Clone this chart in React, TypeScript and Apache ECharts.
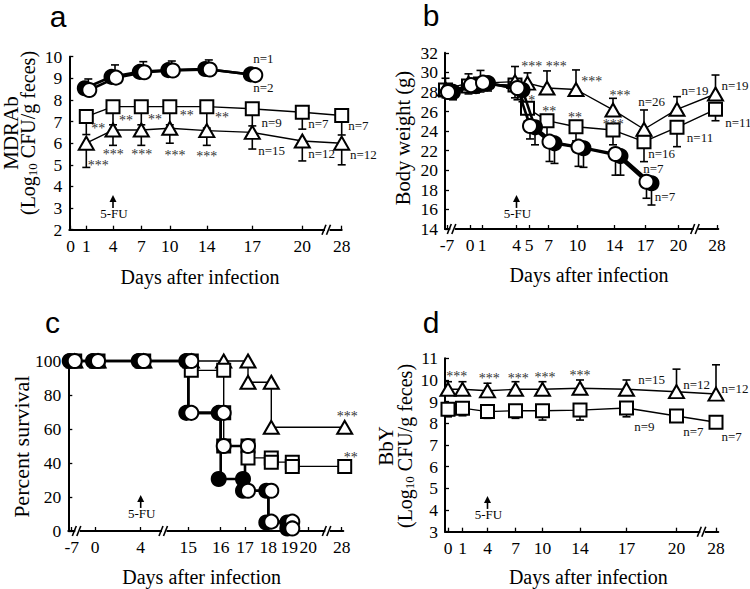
import React, { useEffect, useRef } from "react";
import * as echarts from "echarts";

const SERIF = '"Liberation Serif", "Times New Roman", serif';
const SANS = '"Liberation Sans", Arial, sans-serif';

// ---------- Panel a : MDRAb ----------
const aTickDays = [0, 1, 4, 7, 10, 14, 17, 20, 28];
const aTickPos = [1.4, 17, 43.7, 72, 100.5, 137.5, 183, 233, 272.4];
const aCircDays = [1, 4, 7, 10, 14, 17];
const aFilledMean = [8.54, 9.07, 9.3, 9.38, 9.43, 9.18];
const aOpenMean = [8.46, 9.03, 9.28, 9.36, 9.41, 9.15];
const aOpenUpper = [8.97, 9.62, 9.77, 9.8, 9.85, null];
const aDays = [1, 4, 7, 10, 14, 17, 20, 28];
const aSqMean = [7.23, 7.69, 7.69, 7.69, 7.69, 7.59, 7.43, 7.28];
const aSqLower = [6.4, 6.85, 6.85, 6.85, 6.7, 6.8, 6.65, 6.38];
const aTriMean = [6.0, 6.61, 6.61, 6.69, 6.58, 6.5, 6.1, 6.0];
const aTriLower = [4.88, 5.9, 5.9, 6.0, 5.9, 5.73, 5.18, 5.0];
const aStars: [number, number, string][] = [
  [29, 6.81, "**"], [56.7, 7.15, "**"], [85.7, 7.23, "**"], [117.4, 7.38, "**"], [152.7, 7.31, "**"],
  [29, 5.08, "***"], [44, 5.59, "***"], [72.4, 5.59, "***"], [105.7, 5.54, "***"], [137.4, 5.51, "***"],
];
const aCounts: [number, number, string][] = [
  [194, 9.92, "n=1"], [194, 8.57, "n=2"], [202.4, 6.97, "n=9"], [249, 6.89, "n=7"], [289, 6.84, "n=7"],
  [202.4, 5.65, "n=15"], [252.4, 5.54, "n=12"], [294, 5.46, "n=12"],
];

// ---------- Panel b : Body weight ----------
const bTickDays = [-7, 0, 1, 4, 5, 7, 10, 14, 17, 20, 28];
const bTickPos = [2, 25, 37, 71.5, 84, 103.5, 132.5, 169.5, 200.5, 233.5, 272];
const bDays = [-7, 0, 1, 4, 5, 7, 10, 14, 17, 20, 28];
const bTriMean = [28.3, 28.9, 28.9, 29.05, 28.9, 28.4, 28.25, 26.16, 24.19, 26.23, 27.79];
const bTriUpper = [29.4, 29.85, 30.2, 30.6, 29.95, 30.15, 30.25, 27.35, 26.16, 27.52, 29.73];
const bSqMean = [28.2, 28.6, 28.8, 28.7, 26.33, 25.07, 24.45, 24.11, 22.92, 24.39, 26.23];
const bSqLower = [27.4, 27.8, 28.0, 27.4, 25.0, 23.3, 23.0, 22.6, 20.88, 22.41, 25.06];
const bCircDays = [-7, 0, 1, 4, 5, 7, 10, 14, 17];
const bOpenMean = [28.0, 28.7, 28.95, 28.4, 24.52, 22.92, 22.41, 21.66, 18.83];
const bOpenLower = [27.3, 28.0, 28.2, 27.2, 23.2, 20.9, 20.4, 19.5, 17.14];
const bFilledMean = [28.0, 28.6, 28.9, 28.2, 24.39, 22.75, 22.25, 21.45, 18.67];
const bFilledLower = [27.2, 27.9, 28.1, 27.0, 22.6, 20.7, 20.3, 19.5, 16.45];
const bStars: [number, number, string][] = [
  [86.7, 30.86, "***"], [111.3, 30.86, "***"], [86.7, 27.35, "*"], [104.3, 26.23, "**"],
  [130, 25.65, "**"], [146.7, 29.29, "***"], [175, 27.92, "***"], [168.3, 24.96, "***"],
];
const bCounts: [number, number, string][] = [
  [206.7, 27.0, "n=26"], [250, 28.13, "n=19"], [290, 28.61, "n=19"], [293.3, 24.86, "n=11"],
  [255, 23.37, "n=11"], [216.7, 21.73, "n=16"], [208.3, 20.2, "n=7"], [220, 17.37, "n=7"],
];

// ---------- Panel c : Percent survival ----------
const cTickDays = [-7, 0, 4, 15, 16, 17, 18, 19, 20, 28];
const cTickPos = [3.4, 26.7, 72.4, 120, 152.4, 176.7, 200, 221, 240, 273.4];
const cTriDays = [-7, 0, 4, 15, 16, 17, 17, 18, 18, 28];
const cTriVals = [100, 100, 100, 100, 100, 100, 87.5, 87.5, 61, 61];
const cSqDays = [-7, 0, 4, 15, 15, 16, 16, 16, 17, 17, 18, 18, 19, 19, 28];
const cSqVals = [100, 100, 100, 100, 94.5, 94.5, 69.5, 50, 50, 43, 43, 40.5, 40.5, 38, 38];
const cFilledDays = [-7, 0, 4, 15, 15, 16, 16, 17, 17, 18, 18, 19, 19];
const cFilledVals = [100, 100, 100, 100, 69.5, 69.5, 30.6, 30.6, 23.7, 23.7, 5, 5, 1.5];
const cOpenDays = [-7, 0, 4, 15, 15, 16, 16, 17, 17, 18, 18, 19, 19];
const cOpenVals = [100, 100, 100, 100, 69.5, 69.5, 50, 50, 23.7, 23.7, 5.5, 5.5, 1.5];
const cStars: [number, number, string][] = [[279, 68.8, "***"], [282.4, 44.7, "**"]];

// ---------- Panel d : BbY ----------
const dTickDays = [0, 1, 4, 7, 10, 14, 17, 20, 28];
const dTickPos = [3, 17.5, 42.5, 70.5, 97.5, 135, 181.5, 231.5, 271];
const dDays = [0, 1, 4, 7, 10, 14, 17, 20, 28];
const dTriMean = [9.57, 9.57, 9.5, 9.57, 9.57, 9.62, 9.57, 9.46, 9.35];
const dTriUpper = [9.92, 9.92, 9.85, 9.92, 9.92, 10.0, 10.0, 10.5, 10.7];
const dSqMean = [8.65, 8.7, 8.54, 8.58, 8.58, 8.61, 8.71, 8.34, 8.05];
const dSqLower = [8.3, 8.35, 8.23, 8.23, 8.15, 8.15, 8.3, null, null];
const dStars: [number, number, string][] = [
  [11.7, 10.28, "***"], [44.3, 10.18, "***"], [73.3, 10.18, "***"], [100, 10.22, "***"], [135, 10.31, "***"],
];
const dCounts: [number, number, string][] = [
  [206.7, 10.0, "n=15"], [251.7, 9.81, "n=12"], [290, 9.62, "n=12"],
  [199.3, 7.84, "n=9"], [248.3, 7.61, "n=7"], [286.7, 7.38, "n=7"],
];

// arrow (5-FU) tip values, one per panel, in y units
const fuTip = [3.6, 17.48, 21.2, 4.65];
const fuDay = 4;

// ---------- layout ----------
const GRIDS = [
  { left: 69.3, top: 56.7, width: 272.4, height: 173, ymin: 2, ymax: 10, step: 1 },
  { left: 445, top: 52.8, width: 273.3, height: 176.2, ymin: 14, ymax: 32, step: 2 },
  { left: 68.3, top: 361, width: 275, height: 170, ymin: 0, ymax: 100, step: 20 },
  { left: 445, top: 358.3, width: 273.3, height: 173.4, ymin: 3, ymax: 11, step: 1 },
];
const BREAKS = [[258.7], [8.3, 251.7], [10, 96.7, 260], [258.3]];
const TICKS = [
  [aTickDays, aTickPos],
  [bTickDays, bTickPos],
  [cTickDays, cTickPos],
  [dTickDays, dTickPos],
];

const posOf = (ti: number, day: number) => {
  const [days, pos] = TICKS[ti];
  return pos[days.indexOf(day)];
};
const pts = (gi: number, days: number[], vals: (number | null)[], off: number) =>
  days.map((d, i) => [posOf(gi, d) + off, vals[i]]).filter((p) => p[1] != null);
const errPts = (gi: number, days: number[], vals: number[], ends: (number | null)[], off: number) =>
  days
    .map((d, i) => [posOf(gi, d) + off, vals[i], ends[i]])
    .filter((p) => p[2] != null);

const SYM: Record<string, any> = {
  filled: { symbol: "circle", size: 14, fill: "#000" },
  open: { symbol: "circle", size: 14, fill: "#fff" },
  square: { symbol: "rect", size: 13, fill: "#fff" },
  tri: { symbol: "triangle", size: [15, 13], fill: "#fff" },
};

function lineSeries(gi: number, data: any[], kind: string | null, width: number, z: number) {
  const s = kind ? SYM[kind] : null;
  return {
    type: "line",
    xAxisIndex: gi,
    yAxisIndex: gi,
    data,
    z,
    clip: false,
    silent: true,
    symbol: s ? s.symbol : "none",
    symbolSize: s ? s.size : 0,
    showSymbol: !!s,
    showAllSymbol: true,
    itemStyle: { color: s ? s.fill : "#000", borderColor: "#000", borderWidth: 2, opacity: 1 },
    lineStyle: { color: "#000", width },
    emphasis: { disabled: true },
  };
}

function markerSeries(gi: number, data: any[], kind: string, z: number) {
  const s = SYM[kind];
  return {
    type: "scatter",
    xAxisIndex: gi,
    yAxisIndex: gi,
    data,
    z,
    clip: false,
    silent: true,
    symbol: s.symbol,
    symbolSize: s.size,
    itemStyle: { color: s.fill, borderColor: "#000", borderWidth: 2, opacity: 1 },
    emphasis: { disabled: true },
  };
}

function errSeries(gi: number, data: any[], z: number) {
  return {
    type: "custom",
    xAxisIndex: gi,
    yAxisIndex: gi,
    z,
    clip: false,
    silent: true,
    data,
    encode: { x: 0, y: [1, 2] },
    renderItem: (_p: any, api: any) => {
      const x = api.value(0);
      const a = api.coord([x, api.value(1)]);
      const b = api.coord([x, api.value(2)]);
      const st = { stroke: "#000", lineWidth: 1.6 };
      return {
        type: "group",
        children: [
          { type: "line", shape: { x1: a[0], y1: a[1], x2: b[0], y2: b[1] }, style: st },
          { type: "line", shape: { x1: b[0] - 4, y1: b[1], x2: b[0] + 4, y2: b[1] }, style: st },
        ],
      };
    },
  };
}

// annotation texts placed at data coordinates via the axes' scales
function textSeries(gi: number, items: [number, number, string][], fontSize: number, color: string, dy: number) {
  return {
    type: "custom",
    xAxisIndex: gi,
    yAxisIndex: gi,
    z: 10,
    silent: true,
    clip: false,
    data: items.map((it) => [it[0], it[1]]),
    encode: { x: 0, y: 1 },
    renderItem: (params: any, api: any) => {
      const p = api.coord([api.value(0), api.value(1)]);
      return {
        type: "text",
        x: p[0],
        y: p[1] + dy,
        style: {
          text: items[params.dataIndex][2],
          fontSize,
          fontFamily: SERIF,
          fill: color,
          align: "center",
          verticalAlign: "middle",
        },
      };
    },
  };
}

const yPix = (gi: number, v: number) => {
  const g = GRIDS[gi];
  return g.top + ((g.ymax - v) / (g.ymax - g.ymin)) * g.height;
};

function buildOption() {
  const xAxis = GRIDS.map((g, gi) => {
    const [days, pos] = TICKS[gi];
    return {
      type: "value",
      gridIndex: gi,
      min: 0,
      max: g.width,
      axisLine: { show: true, onZero: false, lineStyle: { color: "#000", width: 2 } },
      axisTick: { show: true, inside: true, length: 4, customValues: pos, lineStyle: { color: "#000", width: 1.3 } },
      axisLabel: {
        show: true,
        customValues: pos,
        formatter: (v: number) => {
          const i = pos.findIndex((p) => Math.abs(p - v) < 0.01);
          return i >= 0 ? String(days[i]) : "";
        },
        fontSize: 17.5,
        fontFamily: SERIF,
        color: "#000",
        margin: 7,
      },
      splitLine: { show: false },
    };
  });
  const yAxis = GRIDS.map((g, gi) => ({
    type: "value",
    gridIndex: gi,
    min: g.ymin,
    max: g.ymax,
    interval: g.step,
    axisLine: { show: true, onZero: false, lineStyle: { color: "#000", width: 2 } },
    axisTick: { show: true, inside: true, length: 4, lineStyle: { color: "#000", width: 1.3 } },
    axisLabel: { fontSize: 17.5, fontFamily: SERIF, color: "#000", margin: 7 },
    splitLine: { show: false },
  }));

  const STAR = 14;
  const NF = 13;
  const SC = "#333";
  const NC = "#111";
  const series: any[] = [
    // a
    errSeries(0, errPts(0, aDays, aTriMean, aTriLower, 0), 1),
    errSeries(0, errPts(0, aDays, aSqMean, aSqLower, 0), 1),
    errSeries(0, errPts(0, aCircDays, aOpenMean, aOpenUpper, 2), 1),
    lineSeries(0, pts(0, aDays, aTriMean, 0), "tri", 1.4, 3),
    lineSeries(0, pts(0, aDays, aSqMean, 0), "square", 1.4, 4),
    lineSeries(0, pts(0, aCircDays, aFilledMean, -1.5), "filled", 2.6, 5),
    lineSeries(0, pts(0, aCircDays, aOpenMean, 3), "open", 2.6, 6),
    textSeries(0, aStars, STAR, SC, 2.5),
    textSeries(0, aCounts, NF, NC, 0),
    // b
    errSeries(1, errPts(1, bDays, bTriMean, bTriUpper, -1.5), 1),
    errSeries(1, errPts(1, bDays, bSqMean, bSqLower, -1.5), 1),
    errSeries(1, errPts(1, bCircDays, bOpenMean, bOpenLower, 1), 1),
    errSeries(1, errPts(1, bCircDays, bFilledMean, bFilledLower, 6), 1),
    lineSeries(1, pts(1, bDays, bSqMean, -1.5), "square", 1.4, 3),
    lineSeries(1, pts(1, bDays, bTriMean, -1.5), "tri", 1.4, 4),
    lineSeries(1, pts(1, bCircDays, bFilledMean, 6), "filled", 2.6, 5),
    lineSeries(1, pts(1, bCircDays, bOpenMean, 1), "open", 2.6, 6),
    textSeries(1, bStars, STAR, SC, 2.5),
    textSeries(1, bCounts, NF, NC, 0),
    // c : step lines, markers drawn separately with small offsets
    lineSeries(2, pts(2, cTriDays, cTriVals, 3), null, 1.4, 3),
    lineSeries(2, pts(2, cSqDays, cSqVals, 3), null, 1.4, 3),
    lineSeries(2, pts(2, cFilledDays, cFilledVals, 0), null, 2.6, 3),
    lineSeries(2, pts(2, cOpenDays, cOpenVals, 0), null, 2.6, 3),
    markerSeries(2, pts(2, cTriDays, cTriVals, 3), "tri", 4),
    markerSeries(2, pts(2, cSqDays, cSqVals, 3), "square", 5),
    markerSeries(2, pts(2, cFilledDays, cFilledVals, -2), "filled", 6),
    markerSeries(2, pts(2, cOpenDays, cOpenVals, 3), "open", 7),
    textSeries(2, cStars, STAR, SC, 2.5),
    // d
    errSeries(3, errPts(3, dDays, dTriMean, dTriUpper, 0), 1),
    errSeries(3, errPts(3, dDays, dSqMean, dSqLower, 0), 1),
    lineSeries(3, pts(3, dDays, dSqMean, 0), "square", 1.4, 3),
    lineSeries(3, pts(3, dDays, dTriMean, 0), "tri", 1.4, 4),
    textSeries(3, dStars, STAR, SC, 2.5),
    textSeries(3, dCounts, NF, NC, 0),
  ];

  const graphic: any[] = [];
  const txt = (x: number, y: number, text: string, size: number, opts: any = {}) => ({
    type: "text",
    x,
    y,
    rotation: opts.rot || 0,
    z: 20,
    silent: true,
    style: {
      text,
      fontSize: size,
      fontFamily: opts.font || SERIF,
      lineHeight: opts.lh || Math.round(size * 1.05),
      fill: "#000",
      align: "center",
      verticalAlign: "middle",
      rich: opts.rich,
    },
  });
  const subRich = {
    sub: { fontSize: 13, fontFamily: SERIF, verticalAlign: "bottom", lineHeight: 14 },
  };
  const R = Math.PI / 2;
  // panel letters
  graphic.push(txt(58, 16.5, "a", 30, { font: SANS, lh: 22 }));
  graphic.push(txt(431, 15.5, "b", 30, { font: SANS, lh: 22 }));
  graphic.push(txt(52.5, 322.5, "c", 30, { font: SANS, lh: 22 }));
  graphic.push(txt(431, 322.5, "d", 30, { font: SANS, lh: 22 }));
  // axis titles
  graphic.push(txt(10.5, 133, "MDRAb", 21, { rot: R, lh: 18 }));
  graphic.push(txt(28, 133, "(Log{sub|10} CFU/g feces)", 20, { rot: R, rich: subRich }));
  graphic.push(txt(200, 277, "Days after infection", 20));
  graphic.push(txt(402.5, 138, "Body weight (g)", 20.5, { rot: R }));
  graphic.push(txt(589, 275, "Days after infection", 20));
  graphic.push(txt(21, 446.7, "Percent survival", 22, { rot: R }));
  graphic.push(txt(201.7, 577.3, "Days after infection", 20));
  graphic.push(txt(386, 446, "BbY", 21, { rot: R, lh: 18 }));
  graphic.push(txt(405, 446, "(Log{sub|10} CFU/g feces)", 20, { rot: R, rich: subRich }));
  graphic.push(txt(588.3, 577.3, "Days after infection", 20));

  GRIDS.forEach((g, gi) => {
    const axisY = g.top + g.height;
    // axis breaks
    BREAKS[gi].forEach((bp) => {
      const bx = g.left + bp;
      graphic.push({ type: "rect", z: 20, silent: true, shape: { x: bx - 3, y: axisY - 2.5, width: 4.5, height: 5 }, style: { fill: "#fff" } });
      graphic.push({ type: "line", z: 21, silent: true, shape: { x1: bx - 6, y1: axisY + 5, x2: bx - 2, y2: axisY - 5 }, style: { stroke: "#000", lineWidth: 1.6 } });
      graphic.push({ type: "line", z: 21, silent: true, shape: { x1: bx - 1.5, y1: axisY + 5, x2: bx + 2.5, y2: axisY - 5 }, style: { stroke: "#000", lineWidth: 1.6 } });
    });
    // 5-FU arrow
    const ax = g.left + posOf(gi, fuDay);
    const ty = yPix(gi, fuTip[gi]);
    graphic.push({ type: "polygon", z: 20, silent: true, shape: { points: [[ax, ty], [ax - 3.5, ty + 7], [ax + 3.5, ty + 7]] }, style: { fill: "#000" } });
    graphic.push({ type: "line", z: 20, silent: true, shape: { x1: ax, y1: ty + 6, x2: ax, y2: ty + 13 }, style: { stroke: "#000", lineWidth: 1.6 } });
    graphic.push(txt(ax + 1, ty + 18.5, "5-FU", 13));
  });

  return {
    animation: false,
    backgroundColor: "#fff",
    textStyle: { fontFamily: SERIF },
    grid: GRIDS.map((g) => ({ left: g.left, top: g.top, width: g.width, height: g.height, containLabel: false, show: false })),
    xAxis,
    yAxis,
    series,
    graphic,
  };
}

export default function App() {
  const ref = useRef<HTMLDivElement>(null);
  useEffect(() => {
    if (!ref.current) return;
    const chart = echarts.init(ref.current, undefined, { renderer: "svg" });
    chart.setOption(buildOption() as any);
    return () => chart.dispose();
  }, []);
  return (
    <div
      ref={ref}
      style={{ position: "absolute", left: 0, top: 0, width: 750, height: 589, background: "#fff" }}
    />
  );
}
